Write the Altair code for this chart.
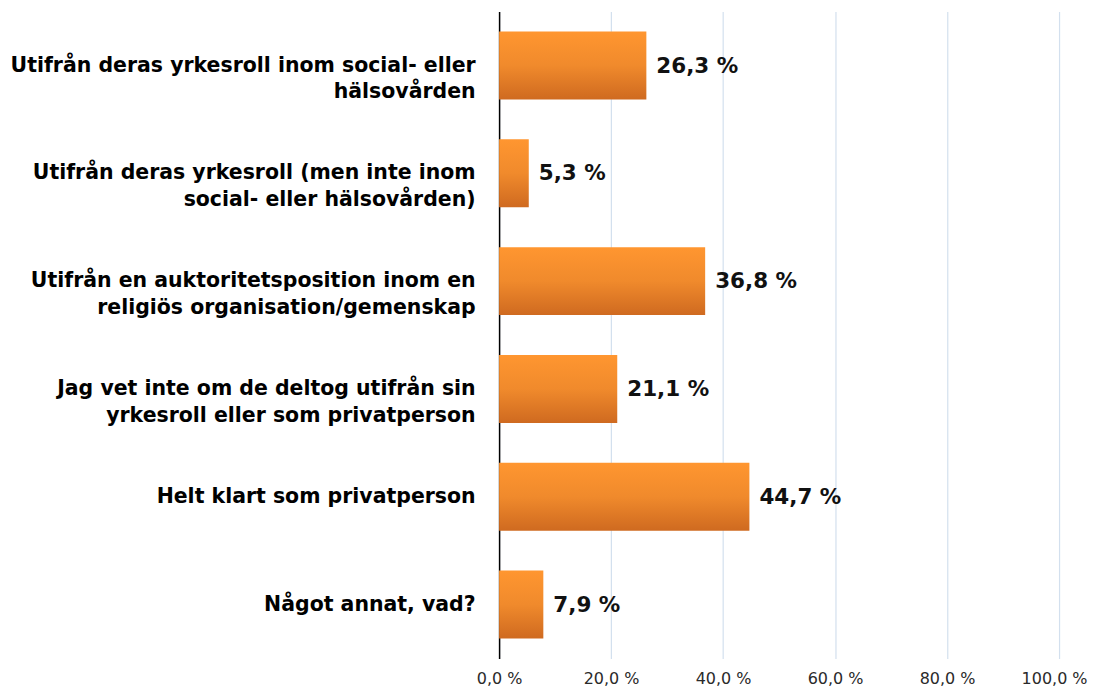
import altair as alt
import pandas as pd

categories = [
    "Utifrån deras yrkesroll inom social- eller|hälsovården",
    "Utifrån deras yrkesroll (men inte inom|social- eller hälsovården)",
    "Utifrån en auktoritetsposition inom en|religiös organisation/gemenskap",
    "Jag vet inte om de deltog utifrån sin|yrkesroll eller som privatperson",
    "Helt klart som privatperson",
    "Något annat, vad?",
]
values = [26.3, 5.3, 36.8, 21.1, 44.7, 7.9]
x_ticks = [0, 20, 40, 60, 80, 100]

df = pd.DataFrame({
    "cat": categories,
    "val": values,
    "lab": [f"{v:.1f}".replace(".", ",") + " %" for v in values],
})

y_enc = alt.Y(
    "cat:N",
    sort=categories,
    title=None,
    scale=alt.Scale(paddingInner=0.37, paddingOuter=0.185),
    axis=alt.Axis(
        labelExpr="split(datum.label, '|')",
        labelFont="DejaVu Sans",
        labelFontWeight="bold",
        labelFontSize=20.5,
        labelColor="#000000",
        labelLineHeight=27,
        labelPadding=24,
        labelLimit=700,
        ticks=False,
        domain=True,
        domainColor="#000000",
        domainWidth=1.5,
        grid=False,
    ),
)

x_enc = alt.X(
    "val:Q",
    title=None,
    scale=alt.Scale(domain=[0, 100], nice=False),
    axis=alt.Axis(
        values=x_ticks,
        labelExpr="replace(format(datum.value, '.1f'), '.', ',') + ' %'",
        labelFont="DejaVu Sans",
        labelFontSize=16,
        labelColor="#2a2a2a",
        labelPadding=12,
        labelFlush=False,
        labelOffset={"condition": {"test": "datum.value == 100", "value": -5}, "value": 0},
        ticks=False,
        domain=False,
        grid=True,
        gridColor="#d3e0ee",
        gridWidth=1.2,
    ),
)

bars = alt.Chart(df).mark_bar(
    color=alt.Gradient(
        gradient="linear",
        x1=0, y1=0, x2=0, y2=1,
        stops=[
            alt.GradientStop(color="#ff9630", offset=0),
            alt.GradientStop(color="#f08a2c", offset=0.5),
            alt.GradientStop(color="#cf6a20", offset=1),
        ],
    ),
    cornerRadius=0,
).encode(x=x_enc, y=y_enc)

texts = alt.Chart(df).mark_text(
    align="left",
    baseline="middle",
    dx=10,
    dy=1,
    font="DejaVu Sans",
    fontWeight="bold",
    fontSize=21.5,
    color="#111111",
).encode(x="val:Q", y=alt.Y("cat:N", sort=categories), text="lab:N")

chart = (
    alt.layer(bars, texts)
    .properties(
        width=561,
        height=648,
        autosize=alt.AutoSizeParams(type="none"),
        padding={"left": 492, "top": 3, "right": 30, "bottom": 30},
        view=alt.ViewConfig(stroke=None),
    )
    .configure_view(strokeWidth=0, stroke=None)
    .configure_axisY(grid=False)
    .configure(background="#ffffff")
)

chart.save("out.html", embed_options={"renderer": "svg", "actions": False})
